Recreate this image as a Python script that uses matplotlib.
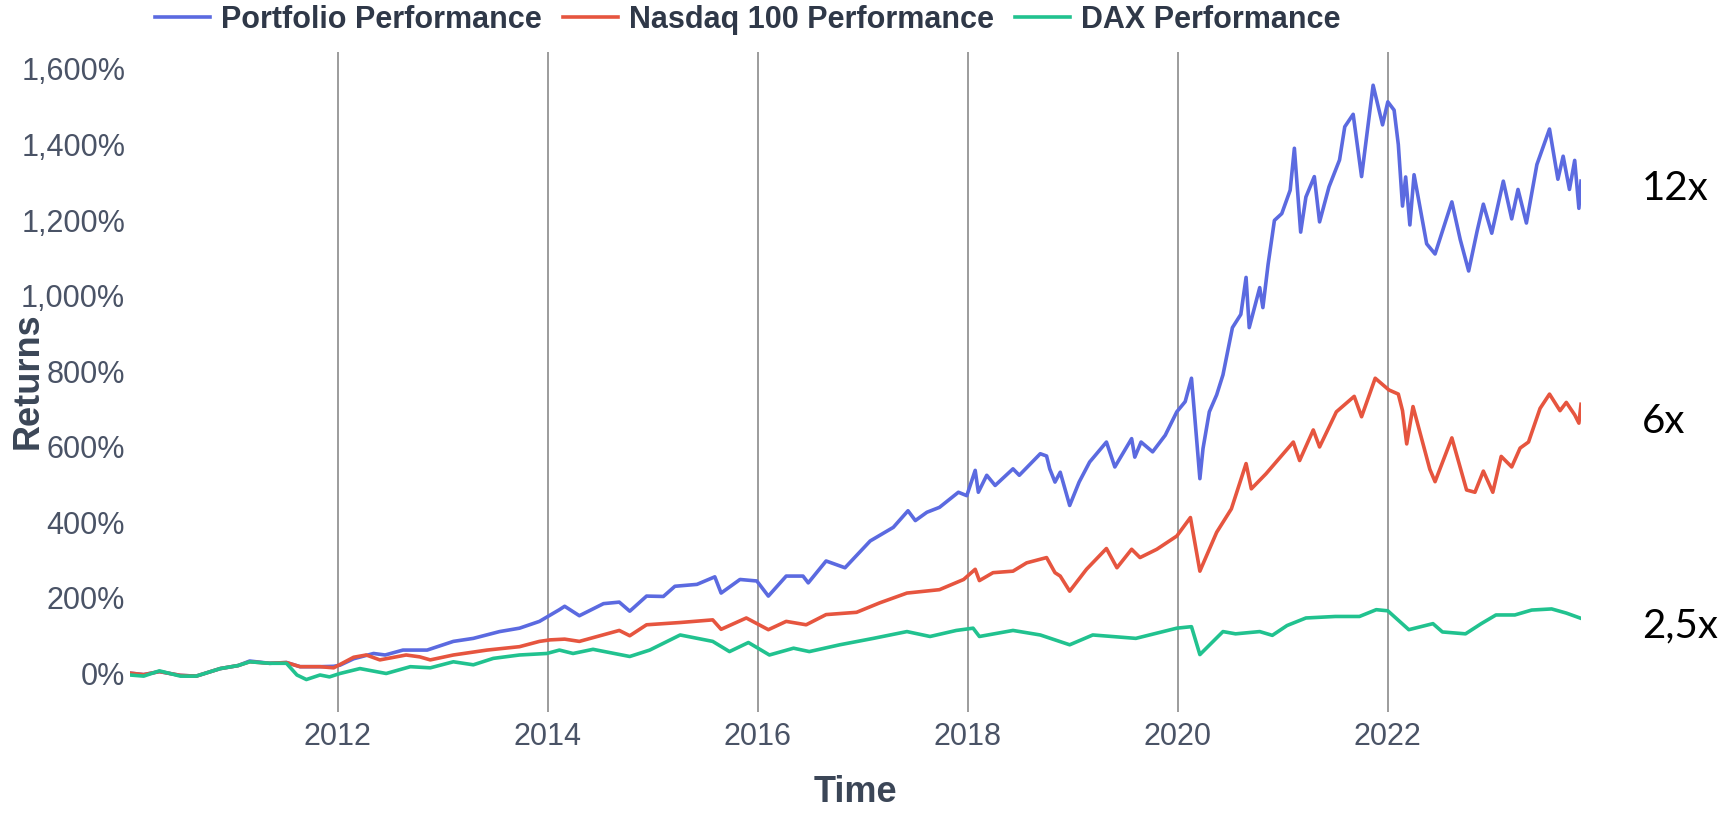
import matplotlib
matplotlib.use("Agg")
import matplotlib.pyplot as plt
from matplotlib import font_manager
from matplotlib.ticker import FuncFormatter

# values: (decimal year, return in %)
portfolio = [
    (2010.02, 0), (2010.15, -4), (2010.30, 4), (2010.50, -6), (2010.65, -8), (2010.88, 12),
    (2011.05, 20), (2011.16, 32), (2011.35, 26), (2011.51, 28), (2011.64, 17), (2011.83, 17),
    (2011.96, 18), (2012.02, 21), (2012.15, 38), (2012.34, 52), (2012.45, 48), (2012.62, 61),
    (2012.85, 61), (2013.10, 84), (2013.29, 92), (2013.54, 110), (2013.73, 119), (2013.92, 137),
    (2014.11, 168), (2014.16, 177), (2014.30, 152), (2014.53, 184), (2014.68, 188), (2014.78, 164),
    (2014.94, 204), (2015.10, 203), (2015.21, 230), (2015.42, 235), (2015.59, 255), (2015.65, 212),
    (2015.74, 230), (2015.83, 248), (2015.99, 244), (2016.10, 204), (2016.27, 257), (2016.43, 257),
    (2016.48, 239), (2016.65, 297), (2016.83, 279), (2017.07, 350), (2017.29, 386), (2017.43, 430),
    (2017.50, 404), (2017.61, 426), (2017.73, 439), (2017.91, 479), (2017.99, 470), (2018.07, 537),
    (2018.10, 479), (2018.18, 524), (2018.26, 497), (2018.43, 541), (2018.49, 524), (2018.69, 581),
    (2018.75, 575), (2018.78, 541), (2018.83, 506), (2018.88, 532), (2018.97, 444), (2019.06, 506),
    (2019.16, 559), (2019.32, 612), (2019.40, 546), (2019.56, 621), (2019.59, 572), (2019.65, 612),
    (2019.76, 586), (2019.88, 630), (2019.99, 692), (2020.07, 719), (2020.13, 781), (2020.16, 683),
    (2020.21, 515), (2020.24, 595), (2020.30, 692), (2020.37, 737), (2020.43, 790), (2020.52, 915),
    (2020.60, 950), (2020.65, 1048), (2020.68, 915), (2020.78, 1021), (2020.81, 968), (2020.86, 1083),
    (2020.92, 1199), (2020.99, 1217), (2021.07, 1279), (2021.11, 1390), (2021.17, 1168), (2021.22, 1261),
    (2021.30, 1315), (2021.35, 1195), (2021.44, 1288), (2021.54, 1359), (2021.59, 1447), (2021.67, 1480),
    (2021.75, 1315), (2021.86, 1557), (2021.95, 1452), (2022.00, 1513), (2022.06, 1491), (2022.10, 1400),
    (2022.14, 1237), (2022.17, 1314), (2022.21, 1187), (2022.25, 1320), (2022.37, 1137), (2022.45, 1110),
    (2022.61, 1248), (2022.69, 1148), (2022.77, 1065), (2022.85, 1170), (2022.91, 1242), (2022.99, 1165),
    (2023.10, 1303), (2023.18, 1203), (2023.24, 1281), (2023.32, 1192), (2023.42, 1347), (2023.54, 1441),
    (2023.62, 1308), (2023.67, 1369), (2023.73, 1281), (2023.78, 1358), (2023.82, 1231), (2023.84, 1303),
]

nasdaq = [
    (2010.02, 0), (2010.15, -4), (2010.30, 4), (2010.50, -6), (2010.65, -8), (2010.88, 12),
    (2011.05, 20), (2011.16, 30), (2011.35, 26), (2011.51, 28), (2011.64, 17), (2011.83, 17),
    (2011.96, 14), (2012.15, 42), (2012.27, 48), (2012.40, 35), (2012.65, 48), (2012.78, 43),
    (2012.88, 35), (2013.10, 48), (2013.42, 61), (2013.73, 70), (2013.92, 84), (2014.02, 88),
    (2014.16, 90), (2014.30, 84), (2014.68, 113), (2014.78, 99), (2014.94, 128), (2015.26, 134),
    (2015.57, 141), (2015.65, 116), (2015.89, 146), (2016.10, 115), (2016.27, 137), (2016.46, 128),
    (2016.65, 155), (2016.94, 161), (2017.16, 186), (2017.42, 212), (2017.73, 221), (2017.96, 248),
    (2018.07, 275), (2018.11, 245), (2018.24, 266), (2018.43, 270), (2018.56, 292), (2018.75, 306),
    (2018.83, 266), (2018.88, 257), (2018.97, 217), (2019.13, 275), (2019.32, 330), (2019.42, 279),
    (2019.56, 328), (2019.64, 306), (2019.80, 328), (2019.99, 363), (2020.12, 412), (2020.21, 270),
    (2020.37, 373), (2020.51, 435), (2020.65, 555), (2020.70, 488), (2020.84, 528), (2021.10, 612),
    (2021.16, 563), (2021.29, 644), (2021.35, 599), (2021.51, 692), (2021.68, 733), (2021.75, 679),
    (2021.88, 781), (2022.01, 750), (2022.10, 739), (2022.14, 695), (2022.18, 607), (2022.24, 706),
    (2022.40, 540), (2022.45, 507), (2022.61, 623), (2022.75, 485), (2022.83, 479), (2022.91, 535),
    (2023.00, 479), (2023.08, 574), (2023.18, 546), (2023.26, 596), (2023.34, 612), (2023.45, 701),
    (2023.54, 739), (2023.64, 695), (2023.70, 717), (2023.78, 684), (2023.82, 662), (2023.84, 712),
]

dax = [
    (2010.02, -5), (2010.15, -8), (2010.30, 6), (2010.50, -8), (2010.65, -8), (2010.88, 12),
    (2011.05, 20), (2011.16, 30), (2011.35, 26), (2011.51, 26), (2011.61, -5), (2011.70, -17),
    (2011.83, -5), (2011.92, -10), (2012.02, -1), (2012.21, 12), (2012.46, -1), (2012.69, 17),
    (2012.88, 14), (2013.10, 30), (2013.29, 22), (2013.48, 39), (2013.73, 48), (2013.99, 52),
    (2014.11, 61), (2014.24, 52), (2014.43, 63), (2014.78, 44), (2014.97, 61), (2015.26, 101),
    (2015.57, 84), (2015.73, 57), (2015.91, 81), (2016.11, 48), (2016.34, 66), (2016.49, 57),
    (2016.78, 75), (2017.10, 92), (2017.42, 110), (2017.64, 97), (2017.89, 113), (2018.05, 119),
    (2018.11, 97), (2018.43, 113), (2018.69, 101), (2018.83, 88), (2018.97, 75), (2019.19, 101),
    (2019.60, 92), (2019.99, 119), (2020.13, 123), (2020.21, 49), (2020.43, 110), (2020.55, 104),
    (2020.78, 110), (2020.90, 100), (2021.04, 126), (2021.22, 146), (2021.50, 150), (2021.73, 150),
    (2021.89, 168), (2022.00, 165), (2022.20, 115), (2022.43, 131), (2022.52, 109), (2022.74, 104),
    (2022.89, 131), (2023.03, 154), (2023.21, 154), (2023.37, 167), (2023.56, 170), (2023.70, 159),
    (2023.84, 145),
]

series_labels = ["Portfolio Performance", "Nasdaq 100 Performance", "DAX Performance"]
series_colors = ["#5b6ae0", "#e6553f", "#21c28f"]
x_ticks = [2012, 2014, 2016, 2018, 2020, 2022]
y_ticks = [0, 200, 400, 600, 800, 1000, 1200, 1400, 1600]
multiples = ["12x", "6x", "2,5x"]

installed = {f.name for f in font_manager.fontManager.ttflist}
if "Liberation Sans Narrow" in installed:
    tick_font, tick_size = "Liberation Sans Narrow", 24
else:
    tick_font, tick_size = "Liberation Sans", 22

plt.rcParams["font.family"] = ["Liberation Sans", "DejaVu Sans"]

W, H = 1731, 813
fig = plt.figure(figsize=(W / 100, H / 100), dpi=100)
ax = fig.add_axes([130 / W, 1 - 712 / H, (1581 - 130) / W, (712 - 52) / H])

lines = []
for data, c, lab in zip([portfolio, nasdaq, dax], series_colors, series_labels):
    t = [p[0] for p in data]
    v = [p[1] for p in data]
    ln, = ax.plot(t, v, color=c, lw=2.6, label=lab, solid_joinstyle="round")
    lines.append(ln)

ax.set_xlim(2010.02, 2023.84)
ax.set_ylim(-103, 1645)
ax.set_xticks(x_ticks)
ax.set_yticks(y_ticks)
ax.yaxis.set_major_formatter(FuncFormatter(lambda v, p: f"{int(v):,}%"))
ax.grid(axis="x", color="#9c9c9c", lw=1.4)
ax.set_axisbelow(True)
for s in ax.spines.values():
    s.set_visible(False)
ax.tick_params(length=0, labelcolor="#4a5366")
ax.tick_params(axis="y", pad=3.5)
ax.tick_params(axis="x", pad=7)
for lbl in ax.get_xticklabels() + ax.get_yticklabels():
    lbl.set_fontfamily(tick_font)
    lbl.set_fontsize(tick_size)

ax.set_xlabel("Time", fontsize=26, fontweight="bold", color="#3b4657")
ax.xaxis.set_label_coords(0.5, -0.1227)
ax.xaxis.label.set_va("center")
ax.set_ylabel("Returns", fontsize=26, fontweight="bold", color="#3b4657")
ax.yaxis.set_label_coords(-0.0703, 0.5015)
ax.yaxis.label.set_va("center")

leg = fig.legend(handles=lines, labels=series_labels, loc="center", ncol=3,
                 bbox_to_anchor=(748 / W, 1 - 20 / H), frameon=False,
                 fontsize=22, handlelength=1.8, handletextpad=0.36, columnspacing=0.69)
for txt in leg.get_texts():
    txt.set_fontweight("bold")
    txt.set_color("#2f3848")
for h in leg.legend_handles:
    h.set_linewidth(2.6)

# multiples annotated at the right edge
for label, yc in zip(multiples, [188, 421, 626]):
    fig.text(1642 / W, 1 - yc / H, label, fontsize=29, family=["Lato", "DejaVu Sans"],
             color="black", ha="left", va="center")

fig.savefig("out.png", dpi=100)
